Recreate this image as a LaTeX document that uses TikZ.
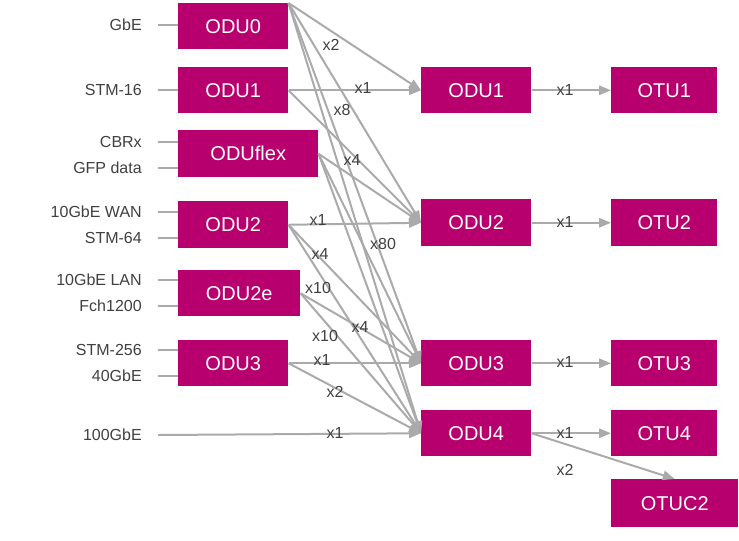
\documentclass[tikz,border=0pt]{standalone}
\usepackage{fontspec}
\setmainfont{Liberation Sans}
\usetikzlibrary{arrows.meta}
\definecolor{odu}{RGB}{183,0,110}
\definecolor{wire}{RGB}{170,170,170}
\definecolor{txt}{RGB}{64,64,64}
\tikzset{
  box/.style={fill=odu,text=white,font=\fontsize{15}{18}\selectfont,inner sep=0pt,anchor=north west},
  lbl/.style={text=txt,font=\fontsize{12}{14}\selectfont,inner sep=0pt},
  sig/.style={text=txt,font=\fontsize{12}{14}\selectfont,anchor=east,inner sep=0pt},
  link/.style={draw=wire,line width=1.5},
  arr/.style={link,-{Triangle[length=9pt,width=7pt]}}
}
\begin{document}
\begin{tikzpicture}[x=0.75pt,y=0.75pt,yscale=-1,xscale=1]
\useasboundingbox (0,0) rectangle (739,540);

% Boxes, left column
\node [box,minimum width=110*0.75pt,minimum height=46*0.75pt] (a0) at (178,3) {ODU0};
\node [box,minimum width=110*0.75pt,minimum height=46*0.75pt] (a1) at (178,67) {ODU1};
\node [box,minimum width=140*0.75pt,minimum height=47*0.75pt] (af) at (178,130) {ODUflex};
\node [box,minimum width=110*0.75pt,minimum height=47*0.75pt] (a2) at (178,201) {ODU2};
\node [box,minimum width=122*0.75pt,minimum height=46*0.75pt] (a2e) at (178,270) {ODU2e};
\node [box,minimum width=110*0.75pt,minimum height=46*0.75pt] (a3) at (178,340) {ODU3};
% Boxes, middle column
\node [box,minimum width=110*0.75pt,minimum height=46*0.75pt] (b1) at (421,67) {ODU1};
\node [box,minimum width=110*0.75pt,minimum height=47*0.75pt] (b2) at (421,199) {ODU2};
\node [box,minimum width=110*0.75pt,minimum height=46*0.75pt] (b3) at (421,340) {ODU3};
\node [box,minimum width=110*0.75pt,minimum height=46*0.75pt] (b4) at (421,410) {ODU4};
% Boxes, right column
\node [box,minimum width=106*0.75pt,minimum height=46*0.75pt] (c1) at (611,67) {OTU1};
\node [box,minimum width=106*0.75pt,minimum height=47*0.75pt] (c2) at (611,199) {OTU2};
\node [box,minimum width=106*0.75pt,minimum height=46*0.75pt] (c3) at (611,340) {OTU3};
\node [box,minimum width=106*0.75pt,minimum height=46*0.75pt] (c4) at (611,410) {OTU4};
\node [box,minimum width=127*0.75pt,minimum height=48*0.75pt] (c5) at (611,479) {OTUC2};

% Client signals
\node [sig] (s1) at (142,25) {GbE};
\node [sig] (s2) at (142,90) {STM-16};
\node [sig] (s3) at (142,142) {CBRx};
\node [sig] (s4) at (142,168) {GFP data};
\node [sig] (s5) at (142,212) {10GbE WAN};
\node [sig] (s6) at (142,238) {STM-64};
\node [sig] (s7) at (142,280) {10GbE LAN};
\node [sig] (s8) at (142,306) {Fch1200};
\node [sig] (s9) at (142,350) {STM-256};
\node [sig] (s10) at (142,376) {40GbE};
\node [sig] (s11) at (142,435) {100GbE};
\foreach \s/\y in {s1/25,s2/90,s3/142,s4/168,s5/212,s6/238,s7/280,s8/306,s9/350,s10/376}
  \draw [link] (158,\y) -- (178,\y);
\draw [arr] (158,435) -- (b4.west);

% Multiplexing
\foreach \t in {b1,b2,b3,b4} \draw [arr] (a0.north east) -- (\t.west);
\foreach \t in {b1,b2} \draw [arr] (a1.east) -- (\t.west);
\foreach \t in {b2,b3,b4} \draw [arr] (af.east) -- (\t.west);
\foreach \t in {b2,b3,b4} \draw [arr] (a2.east) -- (\t.west);
\foreach \t in {b3,b4} \draw [arr] (a2e.east) -- (\t.west);
\foreach \t in {b3,b4} \draw [arr] (a3.east) -- (\t.west);
% Mapping
\draw [arr] (b1.east) -- (c1.west);
\draw [arr] (b2.east) -- (c2.west);
\draw [arr] (b3.east) -- (c3.west);
\draw [arr] (b4.east) -- (c4.west);
\draw [arr] (b4.east) -- (c5.north);

% Text Node
\node [lbl] (m1) at (331,45) {x2};
\node [lbl] (m2) at (363,88) {x1};
\node [lbl] (m3) at (342,110) {x8};
\node [lbl] (m4) at (352,160) {x4};
\node [lbl] (m5) at (318,220) {x1};
\node [lbl] (m6) at (320,254) {x4};
\node [lbl] (m7) at (383,244) {x80};
\node [lbl] (m8) at (318,288) {x10};
\node [lbl] (m9) at (325,336) {x10};
\node [lbl] (m10) at (360,327) {x4};
\node [lbl] (m11) at (322,360) {x1};
\node [lbl] (m12) at (335,392) {x2};
\node [lbl] (m13) at (335,433) {x1};
\node [lbl] (n1) at (565,90) {x1};
\node [lbl] (n2) at (565,222) {x1};
\node [lbl] (n3) at (565,362) {x1};
\node [lbl] (n4) at (565,433) {x1};
\node [lbl] (n5) at (565,470) {x2};
\end{tikzpicture}
\end{document}
